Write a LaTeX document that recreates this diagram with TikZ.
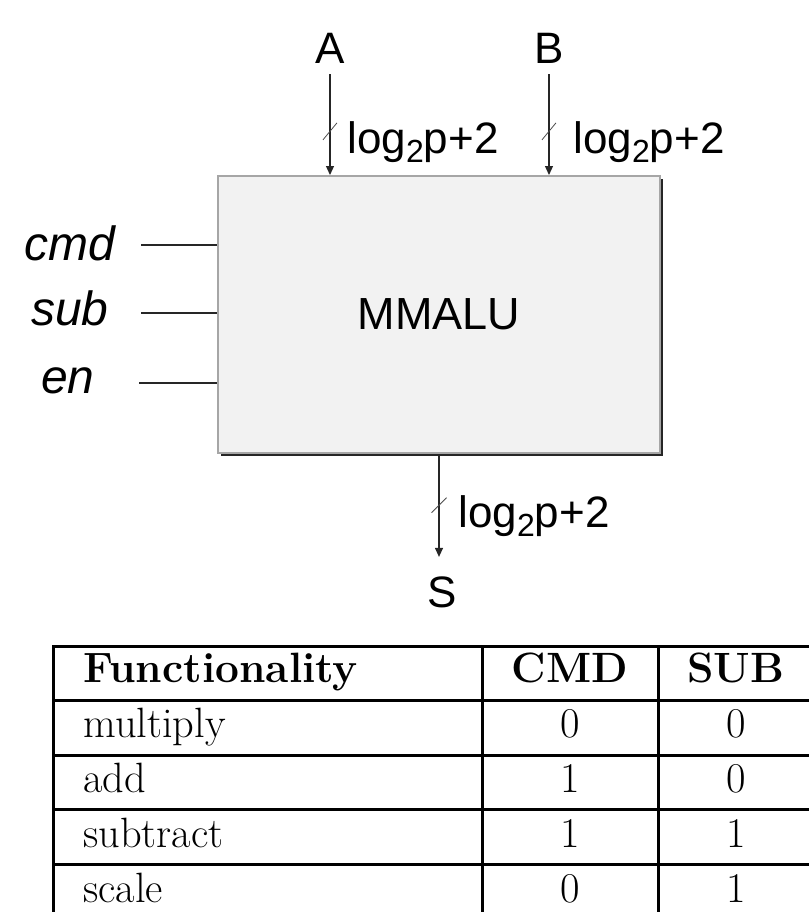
\documentclass[tikz,border=0pt]{standalone}
\usepackage{fontspec}
\newfontfamily\arial{Liberation Sans}
\usepackage{tikz}
\usetikzlibrary{arrows.meta,calc,shadows}
\newcommand{\busw}{log\raisebox{-4.5pt}{\fontsize{16}{16}\selectfont 2}p+2}

\begin{document}
\begin{tikzpicture}[
  x=0.5pt,y=-0.5pt,
  lbl/.style={font=\arial\fontsize{22}{26}\selectfont,inner sep=0pt,anchor=base},
  sig/.style={font=\arial\itshape\fontsize{24}{28}\selectfont,inner sep=0pt,anchor=base},
  alu/.style={draw=black!35,line width=1pt,fill=black!5,minimum width=221pt,minimum height=138.5pt,
    font=\arial\fontsize{22.5}{26}\selectfont,
    general shadow={fill=black!85,shadow xshift=1.5pt,shadow yshift=-1.5pt}},
  bus/.style={draw=black!85,line width=0.6pt},
  wire/.style={draw=black!85,line width=0.6pt},
  tick/.style={draw=black!70,line width=0.4pt},
  cell/.style={font=\fontsize{21.2}{25}\selectfont,inner sep=0pt},
  hdr/.style={cell,font=\bfseries\fontsize{21.2}{25}\selectfont},
  rule/.style={line width=1.5pt,line cap=rect},
  >={Triangle[length=4.5pt,width=4pt]}]
  \useasboundingbox (0,0) rectangle (809,912);
  \clip (0,0) rectangle (809,912);

  \node[alu] (alu) at (439,314.5) {MMALU};

  \node[lbl] (A) at (330,63) {A};
  \node[lbl] (B) at (549,63) {B};
  \node[lbl] (S) at (442,607) {S};
  \draw[bus,->] ([yshift=-5.5pt]A.base) -- (A.base |- alu.north);
  \draw[bus,->] ([yshift=-5.5pt]B.base) -- (B.base |- alu.north);
  \draw[bus,->,shorten >=9.5pt] (alu.south) -- (alu.south |- S.north);
  \draw[tick] ($(A.base)!0.61!(A.base |- alu.north)$) ++(-7,8.5) -- ++(14,-17);
  \draw[tick] ($(B.base)!0.61!(B.base |- alu.north)$) ++(-7,8.5) -- ++(14,-17);
  \draw[tick] ($(alu.south)!0.42!(alu.south |- S.north)$) ++(-7.5,7.5) -- ++(15,-15);
  \node[lbl,anchor=base west] (wa) at (347,153) {\busw};
  \node[lbl,anchor=base west] (wb) at (573,153) {\busw};
  \node[lbl,anchor=base west] (ws) at (458,527) {\busw};

  \node[sig] (cmd) at (70,260) {cmd};
  \node[sig] (sub) at (70,325) {sub};
  \node[sig] (en) at (68,393) {en};
  \coordinate (cmdin) at (141,245);
  \coordinate (subin) at (141,313);
  \coordinate (enin) at (139,383);
  \draw[wire] (cmdin) -- (cmdin -| alu.west);
  \draw[wire] (subin) -- (subin -| alu.west);
  \draw[wire] (enin) -- (enin -| alu.west);

  \foreach \k in {0,...,4}
    \draw[rule] (53,{646+54.5*\k}) -- (830,{646+54.5*\k});
  \foreach \xx in {53,482,658}
    \draw[rule] (\xx,646) -- (\xx,940);
  \node[hdr,anchor=base west] (fn) at (83,682) {Functionality};
  \node[hdr,anchor=base] (cm) at (570,682) {CMD};
  \node[hdr,anchor=base] (sb) at (736,682) {SUB};
  \foreach \f/\c/\s [count=\i] in {multiply/0/0,add/1/0,subtract/1/1,scale/0/1} {
    \node[cell,anchor=base west] (f\i) at (83,{682+55*\i}) {\f};
    \node[cell,anchor=base] (c\i) at (570,{682+55*\i}) {\c};
    \node[cell,anchor=base] (s\i) at (736,{682+55*\i}) {\s};
  }
\end{tikzpicture}
\end{document}
